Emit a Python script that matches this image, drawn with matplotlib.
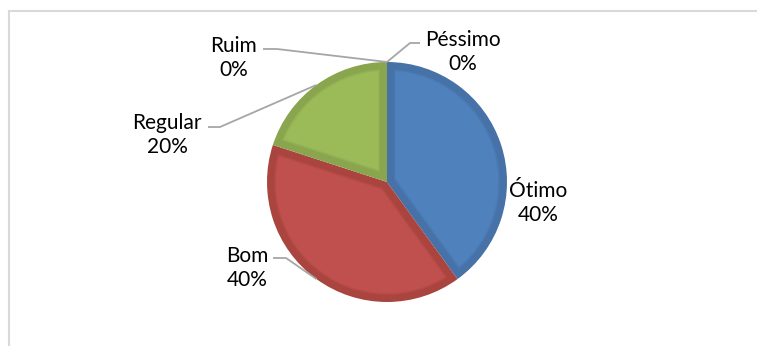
import matplotlib
matplotlib.use('Agg')
import matplotlib.pyplot as plt
import matplotlib.patches as mpatches
import matplotlib.colors as mcolors
import numpy as np

W, H = 757, 346

labels = ["Ótimo", "Bom", "Regular", "Ruim", "Péssimo"]
values = [40, 40, 20, 0, 0]

FILL = ["#4F81BD", "#C0504D", "#9BBB59", "#8064A2", "#4BACC6"]
EDGE = ["#4672A8", "#A9443F", "#89A64E", "#71588F", "#42A0B8"]
LEADER = "#A6A6A6"

# label centres (pixels, y down) and whether a leader line is drawn
label_pos = {
    "Ótimo":   (538, 203, False),
    "Bom":     (247, 268, True),
    "Regular": (167, 135, True),
    "Ruim":    (234, 58, True),
    "Péssimo": (463, 52, True),
}
# leader stub: x next to the text, x of the elbow, y of the stub (pixels)
leader_stub = {
    "Bom":     (273, 286, 258),
    "Regular": (208, 220, 127),
    "Ruim":    (263, 277, 49),
    "Péssimo": (420, 410, 43),
}

CX, CY, R = 387, 182, 120
BORDER = 9  # px, darker rim inside each slice

plt.rcParams['font.family'] = ['Lato', 'DejaVu Sans']


def inner_wedge(cx, cy, r, t1, t2, d):
    # slice shape shrunk by d from every edge
    half = np.deg2rad((t2 - t1) / 2)
    mid = np.deg2rad((t1 + t2) / 2)
    apex_off = d / np.sin(half)
    ri = r - d
    a = np.rad2deg(np.arcsin(d / ri))
    arc = np.deg2rad(np.linspace(t1 + a, t2 - a, 120))
    xs = [cx + apex_off * np.cos(mid)] + list(cx + ri * np.cos(arc))
    ys = [cy + apex_off * np.sin(mid)] + list(cy + ri * np.sin(arc))
    return np.column_stack([xs, ys])


def blend(c1, c2, t):
    a = np.array(mcolors.to_rgb(c1))
    b = np.array(mcolors.to_rgb(c2))
    return tuple(a + (b - a) * t)


fig = plt.figure(figsize=(W / 100, H / 100), dpi=100)
ax = fig.add_axes([0, 0, 1, 1])

# chart frame (runs off right/bottom edges)
fig.patches.append(mpatches.Rectangle((9 / W, -0.1), 1.2, (H - 11) / H + 0.1,
                                      transform=fig.transFigure, fill=False,
                                      edgecolor="#D9D9D9", linewidth=1.5))

wedges, _ = ax.pie(values, startangle=90, counterclock=False,
                   center=(CX, H - CY), radius=R, colors=EDGE, frame=True,
                   wedgeprops=dict(linewidth=0))
ax.set_xlim(0, W)
ax.set_ylim(0, H)
ax.set_aspect('equal')
ax.axis('off')

for w, fc, ec, v in zip(wedges, FILL, EDGE, values):
    if v <= 0:
        w.set_visible(False)
        continue
    # soft step from rim to fill
    for d, t in [(BORDER - 2, 0.35), (BORDER - 1, 0.7), (BORDER, 1.0)]:
        pts = inner_wedge(CX, H - CY, R, w.theta1, w.theta2, d)
        ax.add_patch(mpatches.Polygon(pts, closed=True,
                                      facecolor=blend(ec, fc, t),
                                      edgecolor='none'))

for w, lab, v in zip(wedges, labels, values):
    tx, ty, lead = label_pos[lab]
    ax.text(tx, H - ty, f"{lab}\n{v}%", ha='center', va='center',
            fontsize=15, linespacing=1.3, color="#000000")
    if lead:
        mid = np.deg2rad((w.theta1 + w.theta2) / 2)
        axp = CX + R * np.cos(mid)
        ayp = (H - CY) + R * np.sin(mid)
        x0, x1, ys = leader_stub[lab]
        ax.plot([x0, x1, axp], [H - ys, H - ys, ayp], color=LEADER,
                linewidth=1.3, solid_capstyle='butt')

fig.savefig("out.png", dpi=100)
